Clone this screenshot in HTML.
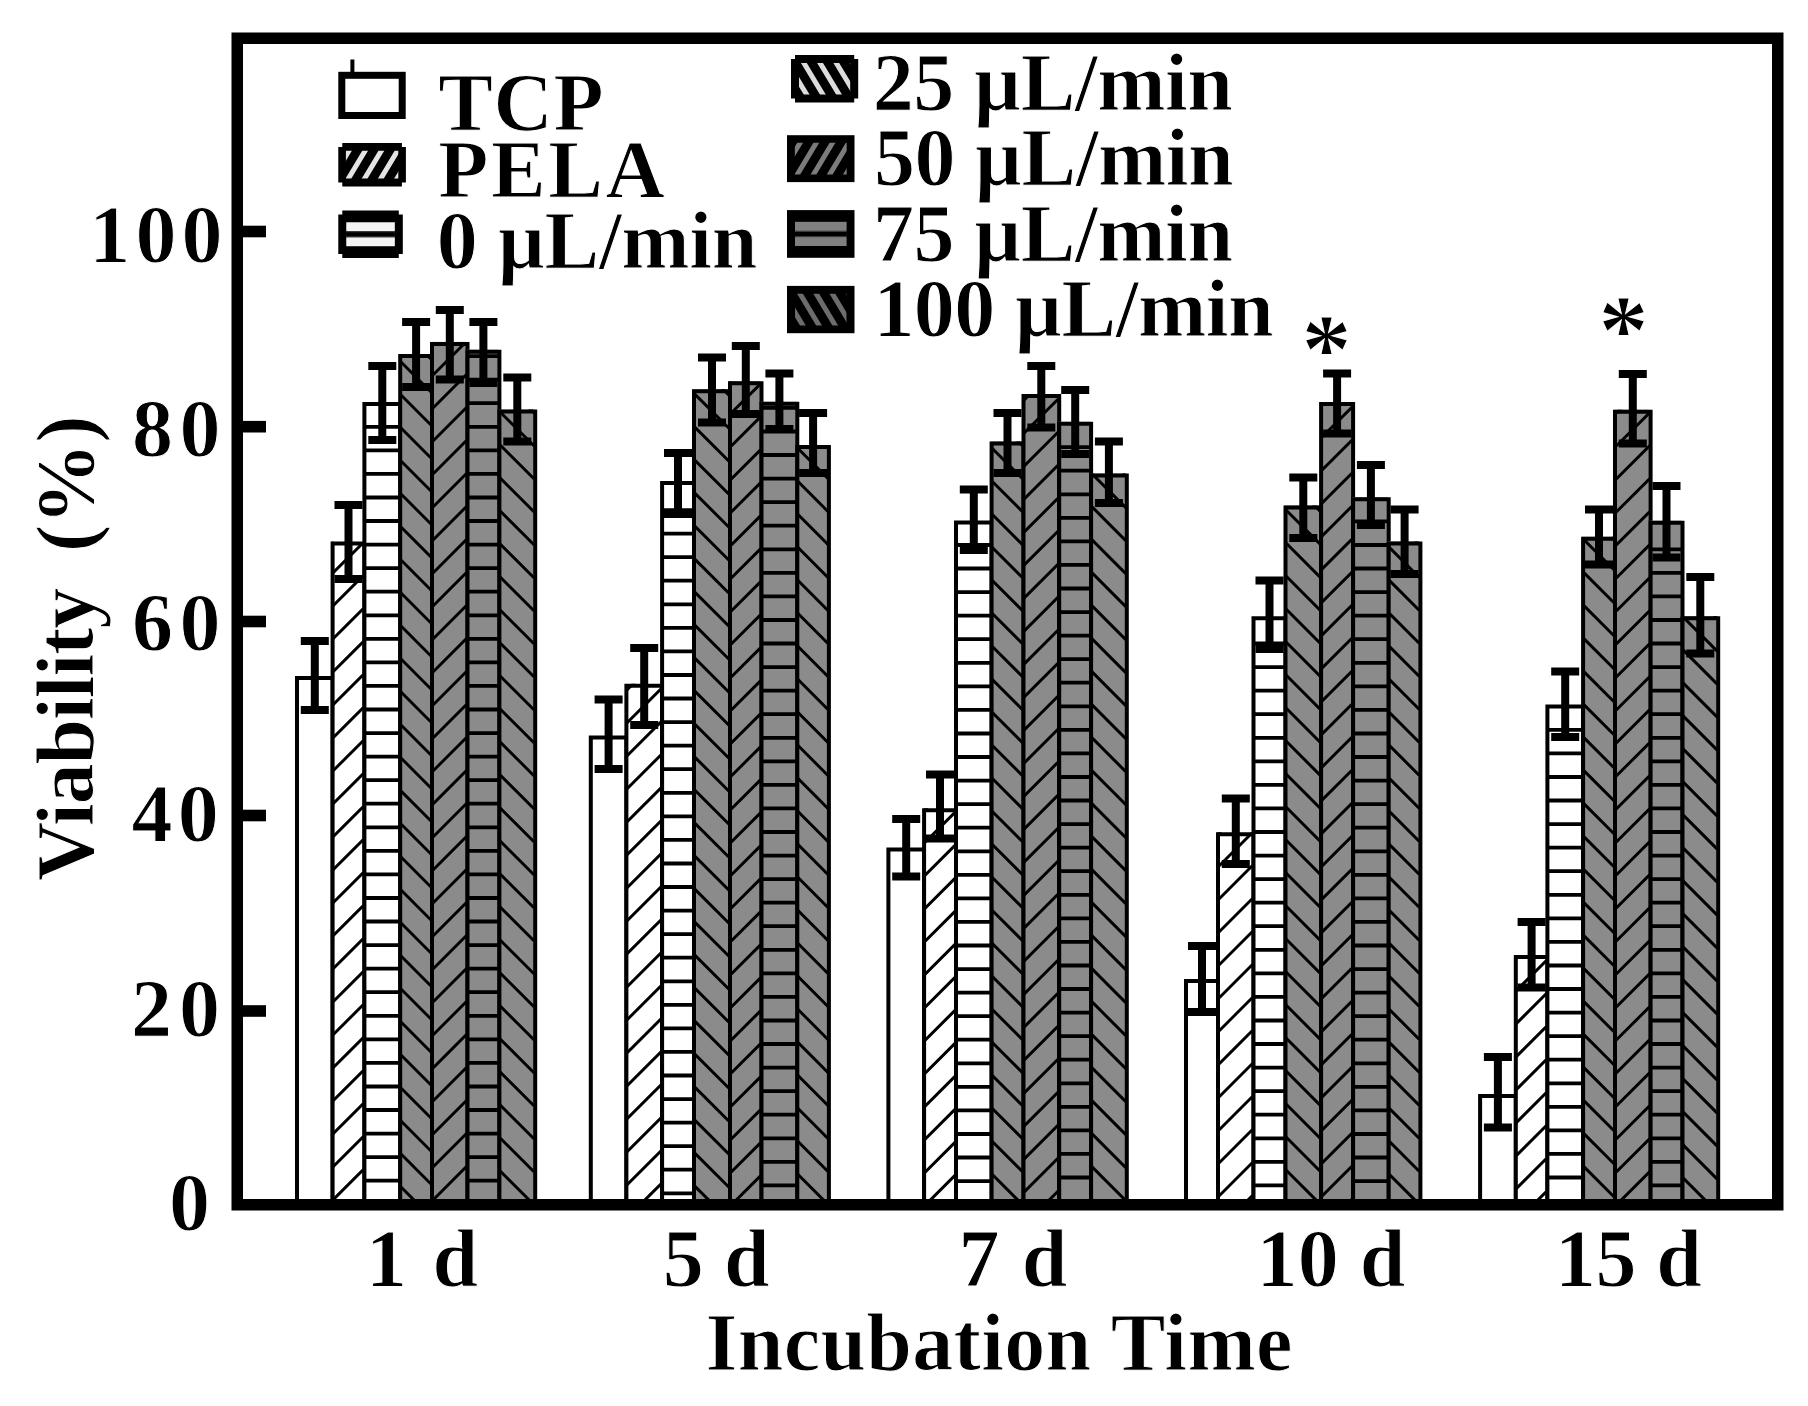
<!DOCTYPE html>
<html lang="en"><head><meta charset="utf-8"><title>Viability vs Incubation Time</title>
<style>html,body{margin:0;padding:0;background:#fff}svg{display:block}text{font-family:"Liberation Serif", "DejaVu Serif", serif;font-weight:bold;fill:#000}</style></head><body>
<svg width="1808" height="1406" viewBox="0 0 1808 1406">
<rect width="1808" height="1406" fill="#fff"/>
<defs><filter id="soft" x="0" y="0" width="1808" height="1406" filterUnits="userSpaceOnUse"><feGaussianBlur stdDeviation="0.6"/></filter></defs>
<g filter="url(#soft)">
<clipPath id="c1"><rect x="296.0" y="676.0" width="35.6" height="525.0"/></clipPath>
<rect x="296.0" y="676.0" width="35.6" height="525.0" fill="#fff"/>
<path d="M297.0 1201.0V678.0H332.6V1201.0" stroke="#000" stroke-width="4" fill="none"/>
<clipPath id="c2"><rect x="331.6" y="541.4" width="31.8" height="659.6"/></clipPath>
<rect x="331.6" y="541.4" width="31.8" height="659.6" fill="#fff"/>
<path clip-path="url(#c2)" d="M331.6 1267.3L363.4 1235.5M331.6 1234.3L363.4 1202.5M331.6 1201.3L363.4 1169.5M331.6 1168.3L363.4 1136.5M331.6 1135.3L363.4 1103.5M331.6 1102.3L363.4 1070.5M331.6 1069.3L363.4 1037.5M331.6 1036.3L363.4 1004.5M331.6 1003.3L363.4 971.5M331.6 970.3L363.4 938.5M331.6 937.3L363.4 905.5M331.6 904.3L363.4 872.5M331.6 871.3L363.4 839.5M331.6 838.3L363.4 806.5M331.6 805.3L363.4 773.5M331.6 772.3L363.4 740.5M331.6 739.3L363.4 707.5M331.6 706.3L363.4 674.5M331.6 673.3L363.4 641.5M331.6 640.3L363.4 608.5M331.6 607.3L363.4 575.5M331.6 574.3L363.4 542.5M331.6 541.3L363.4 509.5M331.6 508.3L363.4 476.5" stroke="#000" stroke-width="3.0" fill="none"/>
<path d="M332.6 1201.0V543.4H364.4V1201.0" stroke="#000" stroke-width="4" fill="none"/>
<clipPath id="c3"><rect x="363.4" y="402.0" width="35.8" height="799.0"/></clipPath>
<rect x="363.4" y="402.0" width="35.8" height="799.0" fill="#fff"/>
<path clip-path="url(#c3)" d="M363.4 1180.7H399.2M363.4 1157.1H399.2M363.4 1133.6H399.2M363.4 1110.0H399.2M363.4 1086.5H399.2M363.4 1062.9H399.2M363.4 1039.3H399.2M363.4 1015.8H399.2M363.4 992.2H399.2M363.4 968.7H399.2M363.4 945.1H399.2M363.4 921.5H399.2M363.4 898.0H399.2M363.4 874.4H399.2M363.4 850.9H399.2M363.4 827.3H399.2M363.4 803.7H399.2M363.4 780.2H399.2M363.4 756.6H399.2M363.4 733.1H399.2M363.4 709.5H399.2M363.4 685.9H399.2M363.4 662.4H399.2M363.4 638.8H399.2M363.4 615.3H399.2M363.4 591.7H399.2M363.4 568.1H399.2M363.4 544.6H399.2M363.4 521.0H399.2M363.4 497.5H399.2M363.4 473.9H399.2M363.4 450.3H399.2M363.4 426.8H399.2" stroke="#000" stroke-width="3.8" fill="none"/>
<path d="M364.4 1201.0V404.0H400.2V1201.0" stroke="#000" stroke-width="4" fill="none"/>
<clipPath id="c4"><rect x="399.2" y="354.0" width="31.8" height="847.0"/></clipPath>
<rect x="399.2" y="354.0" width="31.8" height="847.0" fill="#8b8b8b"/>
<path clip-path="url(#c4)" d="M399.2 1251.2L431.0 1283.0M399.2 1218.2L431.0 1250.0M399.2 1185.2L431.0 1217.0M399.2 1152.2L431.0 1184.0M399.2 1119.2L431.0 1151.0M399.2 1086.2L431.0 1118.0M399.2 1053.2L431.0 1085.0M399.2 1020.2L431.0 1052.0M399.2 987.2L431.0 1019.0M399.2 954.2L431.0 986.0M399.2 921.2L431.0 953.0M399.2 888.2L431.0 920.0M399.2 855.2L431.0 887.0M399.2 822.2L431.0 854.0M399.2 789.2L431.0 821.0M399.2 756.2L431.0 788.0M399.2 723.2L431.0 755.0M399.2 690.2L431.0 722.0M399.2 657.2L431.0 689.0M399.2 624.2L431.0 656.0M399.2 591.2L431.0 623.0M399.2 558.2L431.0 590.0M399.2 525.2L431.0 557.0M399.2 492.2L431.0 524.0M399.2 459.2L431.0 491.0M399.2 426.2L431.0 458.0M399.2 393.2L431.0 425.0M399.2 360.2L431.0 392.0M399.2 327.2L431.0 359.0" stroke="#000" stroke-width="3.0" fill="none"/>
<path d="M400.2 1201.0V356.0H432.0V1201.0" stroke="#000" stroke-width="4" fill="none"/>
<clipPath id="c5"><rect x="431.0" y="341.9" width="35.5" height="859.1"/></clipPath>
<rect x="431.0" y="341.9" width="35.5" height="859.1" fill="#8b8b8b"/>
<path clip-path="url(#c5)" d="M431.0 1268.0L466.5 1232.5M431.0 1235.0L466.5 1199.5M431.0 1202.0L466.5 1166.5M431.0 1169.0L466.5 1133.5M431.0 1136.0L466.5 1100.5M431.0 1103.0L466.5 1067.5M431.0 1070.0L466.5 1034.5M431.0 1037.0L466.5 1001.5M431.0 1004.0L466.5 968.5M431.0 971.0L466.5 935.5M431.0 938.0L466.5 902.5M431.0 905.0L466.5 869.5M431.0 872.0L466.5 836.5M431.0 839.0L466.5 803.5M431.0 806.0L466.5 770.5M431.0 773.0L466.5 737.5M431.0 740.0L466.5 704.5M431.0 707.0L466.5 671.5M431.0 674.0L466.5 638.5M431.0 641.0L466.5 605.5M431.0 608.0L466.5 572.5M431.0 575.0L466.5 539.5M431.0 542.0L466.5 506.5M431.0 509.0L466.5 473.5M431.0 476.0L466.5 440.5M431.0 443.0L466.5 407.5M431.0 410.0L466.5 374.5M431.0 377.0L466.5 341.5M431.0 344.0L466.5 308.5M431.0 311.0L466.5 275.5" stroke="#000" stroke-width="3.0" fill="none"/>
<path d="M432.0 1201.0V343.9H467.5V1201.0" stroke="#000" stroke-width="4" fill="none"/>
<clipPath id="c6"><rect x="466.5" y="349.7" width="31.9" height="851.3"/></clipPath>
<rect x="466.5" y="349.7" width="31.9" height="851.3" fill="#8b8b8b"/>
<path clip-path="url(#c6)" d="M466.5 1180.7H498.4M466.5 1157.1H498.4M466.5 1133.6H498.4M466.5 1110.0H498.4M466.5 1086.5H498.4M466.5 1062.9H498.4M466.5 1039.3H498.4M466.5 1015.8H498.4M466.5 992.2H498.4M466.5 968.7H498.4M466.5 945.1H498.4M466.5 921.5H498.4M466.5 898.0H498.4M466.5 874.4H498.4M466.5 850.9H498.4M466.5 827.3H498.4M466.5 803.7H498.4M466.5 780.2H498.4M466.5 756.6H498.4M466.5 733.1H498.4M466.5 709.5H498.4M466.5 685.9H498.4M466.5 662.4H498.4M466.5 638.8H498.4M466.5 615.3H498.4M466.5 591.7H498.4M466.5 568.1H498.4M466.5 544.6H498.4M466.5 521.0H498.4M466.5 497.5H498.4M466.5 473.9H498.4M466.5 450.3H498.4M466.5 426.8H498.4M466.5 403.2H498.4M466.5 379.7H498.4M466.5 356.1H498.4" stroke="#000" stroke-width="3.8" fill="none"/>
<path d="M467.5 1201.0V351.7H499.4V1201.0" stroke="#000" stroke-width="4" fill="none"/>
<clipPath id="c7"><rect x="498.4" y="409.6" width="35.8" height="791.4"/></clipPath>
<rect x="498.4" y="409.6" width="35.8" height="791.4" fill="#8b8b8b"/>
<path clip-path="url(#c7)" d="M498.4 1235.2L534.2 1271.0M498.4 1202.2L534.2 1238.0M498.4 1169.2L534.2 1205.0M498.4 1136.2L534.2 1172.0M498.4 1103.2L534.2 1139.0M498.4 1070.2L534.2 1106.0M498.4 1037.2L534.2 1073.0M498.4 1004.2L534.2 1040.0M498.4 971.2L534.2 1007.0M498.4 938.2L534.2 974.0M498.4 905.2L534.2 941.0M498.4 872.2L534.2 908.0M498.4 839.2L534.2 875.0M498.4 806.2L534.2 842.0M498.4 773.2L534.2 809.0M498.4 740.2L534.2 776.0M498.4 707.2L534.2 743.0M498.4 674.2L534.2 710.0M498.4 641.2L534.2 677.0M498.4 608.2L534.2 644.0M498.4 575.2L534.2 611.0M498.4 542.2L534.2 578.0M498.4 509.2L534.2 545.0M498.4 476.2L534.2 512.0M498.4 443.2L534.2 479.0M498.4 410.2L534.2 446.0M498.4 377.2L534.2 413.0" stroke="#000" stroke-width="3.0" fill="none"/>
<path d="M499.4 1201.0V411.6H535.2V1201.0" stroke="#000" stroke-width="4" fill="none"/>
<clipPath id="c8"><rect x="589.8" y="735.4" width="35.6" height="465.6"/></clipPath>
<rect x="589.8" y="735.4" width="35.6" height="465.6" fill="#fff"/>
<path d="M590.8 1201.0V737.4H626.4V1201.0" stroke="#000" stroke-width="4" fill="none"/>
<clipPath id="c9"><rect x="625.4" y="683.8" width="35.7" height="517.2"/></clipPath>
<rect x="625.4" y="683.8" width="35.7" height="517.2" fill="#fff"/>
<path clip-path="url(#c9)" d="M625.4 1252.5L661.1 1216.8M625.4 1219.5L661.1 1183.8M625.4 1186.5L661.1 1150.8M625.4 1153.5L661.1 1117.8M625.4 1120.5L661.1 1084.8M625.4 1087.5L661.1 1051.8M625.4 1054.5L661.1 1018.8M625.4 1021.5L661.1 985.8M625.4 988.5L661.1 952.8M625.4 955.5L661.1 919.8M625.4 922.5L661.1 886.8M625.4 889.5L661.1 853.8M625.4 856.5L661.1 820.8M625.4 823.5L661.1 787.8M625.4 790.5L661.1 754.8M625.4 757.5L661.1 721.8M625.4 724.5L661.1 688.8M625.4 691.5L661.1 655.8M625.4 658.5L661.1 622.8" stroke="#000" stroke-width="3.0" fill="none"/>
<path d="M626.4 1201.0V685.8H662.1V1201.0" stroke="#000" stroke-width="4" fill="none"/>
<clipPath id="c10"><rect x="661.1" y="481.0" width="31.9" height="720.0"/></clipPath>
<rect x="661.1" y="481.0" width="31.9" height="720.0" fill="#fff"/>
<path clip-path="url(#c10)" d="M661.1 1193.3H693.0M661.1 1169.7H693.0M661.1 1146.2H693.0M661.1 1122.6H693.0M661.1 1099.1H693.0M661.1 1075.5H693.0M661.1 1051.9H693.0M661.1 1028.4H693.0M661.1 1004.8H693.0M661.1 981.3H693.0M661.1 957.7H693.0M661.1 934.1H693.0M661.1 910.6H693.0M661.1 887.0H693.0M661.1 863.5H693.0M661.1 839.9H693.0M661.1 816.3H693.0M661.1 792.8H693.0M661.1 769.2H693.0M661.1 745.7H693.0M661.1 722.1H693.0M661.1 698.5H693.0M661.1 675.0H693.0M661.1 651.4H693.0M661.1 627.9H693.0M661.1 604.3H693.0M661.1 580.7H693.0M661.1 557.2H693.0M661.1 533.6H693.0M661.1 510.1H693.0" stroke="#000" stroke-width="3.8" fill="none"/>
<path d="M662.1 1201.0V483.0H694.0V1201.0" stroke="#000" stroke-width="4" fill="none"/>
<clipPath id="c11"><rect x="693.0" y="389.3" width="36.0" height="811.7"/></clipPath>
<rect x="693.0" y="389.3" width="36.0" height="811.7" fill="#8b8b8b"/>
<path clip-path="url(#c11)" d="M693.0 1250.3L729.0 1286.3M693.0 1217.3L729.0 1253.3M693.0 1184.3L729.0 1220.3M693.0 1151.3L729.0 1187.3M693.0 1118.3L729.0 1154.3M693.0 1085.3L729.0 1121.3M693.0 1052.3L729.0 1088.3M693.0 1019.3L729.0 1055.3M693.0 986.3L729.0 1022.3M693.0 953.3L729.0 989.3M693.0 920.3L729.0 956.3M693.0 887.3L729.0 923.3M693.0 854.3L729.0 890.3M693.0 821.3L729.0 857.3M693.0 788.3L729.0 824.3M693.0 755.3L729.0 791.3M693.0 722.3L729.0 758.3M693.0 689.3L729.0 725.3M693.0 656.3L729.0 692.3M693.0 623.3L729.0 659.3M693.0 590.3L729.0 626.3M693.0 557.3L729.0 593.3M693.0 524.3L729.0 560.3M693.0 491.3L729.0 527.3M693.0 458.3L729.0 494.3M693.0 425.3L729.0 461.3M693.0 392.3L729.0 428.3M693.0 359.3L729.0 395.3" stroke="#000" stroke-width="3.0" fill="none"/>
<path d="M694.0 1201.0V391.3H730.0V1201.0" stroke="#000" stroke-width="4" fill="none"/>
<clipPath id="c12"><rect x="729.0" y="381.2" width="31.5" height="819.8"/></clipPath>
<rect x="729.0" y="381.2" width="31.5" height="819.8" fill="#8b8b8b"/>
<path clip-path="url(#c12)" d="M729.0 1240.3L760.5 1208.8M729.0 1207.3L760.5 1175.8M729.0 1174.3L760.5 1142.8M729.0 1141.3L760.5 1109.8M729.0 1108.3L760.5 1076.8M729.0 1075.3L760.5 1043.8M729.0 1042.3L760.5 1010.8M729.0 1009.3L760.5 977.8M729.0 976.3L760.5 944.8M729.0 943.3L760.5 911.8M729.0 910.3L760.5 878.8M729.0 877.3L760.5 845.8M729.0 844.3L760.5 812.8M729.0 811.3L760.5 779.8M729.0 778.3L760.5 746.8M729.0 745.3L760.5 713.8M729.0 712.3L760.5 680.8M729.0 679.3L760.5 647.8M729.0 646.3L760.5 614.8M729.0 613.3L760.5 581.8M729.0 580.3L760.5 548.8M729.0 547.3L760.5 515.8M729.0 514.3L760.5 482.8M729.0 481.3L760.5 449.8M729.0 448.3L760.5 416.8M729.0 415.3L760.5 383.8M729.0 382.3L760.5 350.8M729.0 349.3L760.5 317.8" stroke="#000" stroke-width="3.0" fill="none"/>
<path d="M730.0 1201.0V383.2H761.5V1201.0" stroke="#000" stroke-width="4" fill="none"/>
<clipPath id="c13"><rect x="760.5" y="401.8" width="35.8" height="799.2"/></clipPath>
<rect x="760.5" y="401.8" width="35.8" height="799.2" fill="#8b8b8b"/>
<path clip-path="url(#c13)" d="M760.5 1185.4H796.3M760.5 1161.8H796.3M760.5 1138.3H796.3M760.5 1114.7H796.3M760.5 1091.2H796.3M760.5 1067.6H796.3M760.5 1044.0H796.3M760.5 1020.5H796.3M760.5 996.9H796.3M760.5 973.4H796.3M760.5 949.8H796.3M760.5 926.2H796.3M760.5 902.7H796.3M760.5 879.1H796.3M760.5 855.6H796.3M760.5 832.0H796.3M760.5 808.4H796.3M760.5 784.9H796.3M760.5 761.3H796.3M760.5 737.8H796.3M760.5 714.2H796.3M760.5 690.6H796.3M760.5 667.1H796.3M760.5 643.5H796.3M760.5 620.0H796.3M760.5 596.4H796.3M760.5 572.8H796.3M760.5 549.3H796.3M760.5 525.7H796.3M760.5 502.2H796.3M760.5 478.6H796.3M760.5 455.0H796.3M760.5 431.5H796.3M760.5 407.9H796.3" stroke="#000" stroke-width="3.8" fill="none"/>
<path d="M761.5 1201.0V403.8H797.3V1201.0" stroke="#000" stroke-width="4" fill="none"/>
<clipPath id="c14"><rect x="796.3" y="445.0" width="31.6" height="756.0"/></clipPath>
<rect x="796.3" y="445.0" width="31.6" height="756.0" fill="#8b8b8b"/>
<path clip-path="url(#c14)" d="M796.3 1238.8L827.9 1270.4M796.3 1205.8L827.9 1237.4M796.3 1172.8L827.9 1204.4M796.3 1139.8L827.9 1171.4M796.3 1106.8L827.9 1138.4M796.3 1073.8L827.9 1105.4M796.3 1040.8L827.9 1072.4M796.3 1007.8L827.9 1039.4M796.3 974.8L827.9 1006.4M796.3 941.8L827.9 973.4M796.3 908.8L827.9 940.4M796.3 875.8L827.9 907.4M796.3 842.8L827.9 874.4M796.3 809.8L827.9 841.4M796.3 776.8L827.9 808.4M796.3 743.8L827.9 775.4M796.3 710.8L827.9 742.4M796.3 677.8L827.9 709.4M796.3 644.8L827.9 676.4M796.3 611.8L827.9 643.4M796.3 578.8L827.9 610.4M796.3 545.8L827.9 577.4M796.3 512.8L827.9 544.4M796.3 479.8L827.9 511.4M796.3 446.8L827.9 478.4M796.3 413.8L827.9 445.4" stroke="#000" stroke-width="3.0" fill="none"/>
<path d="M797.3 1201.0V447.0H828.9V1201.0" stroke="#000" stroke-width="4" fill="none"/>
<clipPath id="c15"><rect x="887.4" y="847.5" width="35.7" height="353.5"/></clipPath>
<rect x="887.4" y="847.5" width="35.7" height="353.5" fill="#fff"/>
<path d="M888.4 1201.0V849.5H924.1V1201.0" stroke="#000" stroke-width="4" fill="none"/>
<clipPath id="c16"><rect x="923.1" y="808.3" width="31.9" height="392.7"/></clipPath>
<rect x="923.1" y="808.3" width="31.9" height="392.7" fill="#fff"/>
<path clip-path="url(#c16)" d="M923.1 1240.3L955.0 1208.4M923.1 1207.3L955.0 1175.4M923.1 1174.3L955.0 1142.4M923.1 1141.3L955.0 1109.4M923.1 1108.3L955.0 1076.4M923.1 1075.3L955.0 1043.4M923.1 1042.3L955.0 1010.4M923.1 1009.3L955.0 977.4M923.1 976.3L955.0 944.4M923.1 943.3L955.0 911.4M923.1 910.3L955.0 878.4M923.1 877.3L955.0 845.4M923.1 844.3L955.0 812.4M923.1 811.3L955.0 779.4M923.1 778.3L955.0 746.4" stroke="#000" stroke-width="3.0" fill="none"/>
<path d="M924.1 1201.0V810.3H956.0V1201.0" stroke="#000" stroke-width="4" fill="none"/>
<clipPath id="c17"><rect x="955.0" y="520.6" width="35.6" height="680.4"/></clipPath>
<rect x="955.0" y="520.6" width="35.6" height="680.4" fill="#fff"/>
<path clip-path="url(#c17)" d="M955.0 1181.1H990.6M955.0 1157.5H990.6M955.0 1134.0H990.6M955.0 1110.4H990.6M955.0 1086.9H990.6M955.0 1063.3H990.6M955.0 1039.7H990.6M955.0 1016.2H990.6M955.0 992.6H990.6M955.0 969.1H990.6M955.0 945.5H990.6M955.0 921.9H990.6M955.0 898.4H990.6M955.0 874.8H990.6M955.0 851.3H990.6M955.0 827.7H990.6M955.0 804.1H990.6M955.0 780.6H990.6M955.0 757.0H990.6M955.0 733.5H990.6M955.0 709.9H990.6M955.0 686.3H990.6M955.0 662.8H990.6M955.0 639.2H990.6M955.0 615.7H990.6M955.0 592.1H990.6M955.0 568.5H990.6M955.0 545.0H990.6" stroke="#000" stroke-width="3.8" fill="none"/>
<path d="M956.0 1201.0V522.6H991.6V1201.0" stroke="#000" stroke-width="4" fill="none"/>
<clipPath id="c18"><rect x="990.6" y="441.4" width="31.9" height="759.6"/></clipPath>
<rect x="990.6" y="441.4" width="31.9" height="759.6" fill="#8b8b8b"/>
<path clip-path="url(#c18)" d="M990.6 1238.8L1022.5 1270.7M990.6 1205.8L1022.5 1237.7M990.6 1172.8L1022.5 1204.7M990.6 1139.8L1022.5 1171.7M990.6 1106.8L1022.5 1138.7M990.6 1073.8L1022.5 1105.7M990.6 1040.8L1022.5 1072.7M990.6 1007.8L1022.5 1039.7M990.6 974.8L1022.5 1006.7M990.6 941.8L1022.5 973.7M990.6 908.8L1022.5 940.7M990.6 875.8L1022.5 907.7M990.6 842.8L1022.5 874.7M990.6 809.8L1022.5 841.7M990.6 776.8L1022.5 808.7M990.6 743.8L1022.5 775.7M990.6 710.8L1022.5 742.7M990.6 677.8L1022.5 709.7M990.6 644.8L1022.5 676.7M990.6 611.8L1022.5 643.7M990.6 578.8L1022.5 610.7M990.6 545.8L1022.5 577.7M990.6 512.8L1022.5 544.7M990.6 479.8L1022.5 511.7M990.6 446.8L1022.5 478.7M990.6 413.8L1022.5 445.7" stroke="#000" stroke-width="3.0" fill="none"/>
<path d="M991.6 1201.0V443.4H1023.5V1201.0" stroke="#000" stroke-width="4" fill="none"/>
<clipPath id="c19"><rect x="1022.5" y="394.0" width="35.7" height="807.0"/></clipPath>
<rect x="1022.5" y="394.0" width="35.7" height="807.0" fill="#8b8b8b"/>
<path clip-path="url(#c19)" d="M1022.5 1259.7L1058.2 1224.0M1022.5 1226.7L1058.2 1191.0M1022.5 1193.7L1058.2 1158.0M1022.5 1160.7L1058.2 1125.0M1022.5 1127.7L1058.2 1092.0M1022.5 1094.7L1058.2 1059.0M1022.5 1061.7L1058.2 1026.0M1022.5 1028.7L1058.2 993.0M1022.5 995.7L1058.2 960.0M1022.5 962.7L1058.2 927.0M1022.5 929.7L1058.2 894.0M1022.5 896.7L1058.2 861.0M1022.5 863.7L1058.2 828.0M1022.5 830.7L1058.2 795.0M1022.5 797.7L1058.2 762.0M1022.5 764.7L1058.2 729.0M1022.5 731.7L1058.2 696.0M1022.5 698.7L1058.2 663.0M1022.5 665.7L1058.2 630.0M1022.5 632.7L1058.2 597.0M1022.5 599.7L1058.2 564.0M1022.5 566.7L1058.2 531.0M1022.5 533.7L1058.2 498.0M1022.5 500.7L1058.2 465.0M1022.5 467.7L1058.2 432.0M1022.5 434.7L1058.2 399.0M1022.5 401.7L1058.2 366.0M1022.5 368.7L1058.2 333.0" stroke="#000" stroke-width="3.0" fill="none"/>
<path d="M1023.5 1201.0V396.0H1059.2V1201.0" stroke="#000" stroke-width="4" fill="none"/>
<clipPath id="c20"><rect x="1058.2" y="421.8" width="31.9" height="779.2"/></clipPath>
<rect x="1058.2" y="421.8" width="31.9" height="779.2" fill="#8b8b8b"/>
<path clip-path="url(#c20)" d="M1058.2 1177.5H1090.1M1058.2 1153.9H1090.1M1058.2 1130.4H1090.1M1058.2 1106.8H1090.1M1058.2 1083.3H1090.1M1058.2 1059.7H1090.1M1058.2 1036.1H1090.1M1058.2 1012.6H1090.1M1058.2 989.0H1090.1M1058.2 965.5H1090.1M1058.2 941.9H1090.1M1058.2 918.3H1090.1M1058.2 894.8H1090.1M1058.2 871.2H1090.1M1058.2 847.7H1090.1M1058.2 824.1H1090.1M1058.2 800.5H1090.1M1058.2 777.0H1090.1M1058.2 753.4H1090.1M1058.2 729.9H1090.1M1058.2 706.3H1090.1M1058.2 682.7H1090.1M1058.2 659.2H1090.1M1058.2 635.6H1090.1M1058.2 612.1H1090.1M1058.2 588.5H1090.1M1058.2 564.9H1090.1M1058.2 541.4H1090.1M1058.2 517.8H1090.1M1058.2 494.3H1090.1M1058.2 470.7H1090.1M1058.2 447.1H1090.1" stroke="#000" stroke-width="3.8" fill="none"/>
<path d="M1059.2 1201.0V423.8H1091.1V1201.0" stroke="#000" stroke-width="4" fill="none"/>
<clipPath id="c21"><rect x="1090.1" y="473.5" width="35.7" height="727.5"/></clipPath>
<rect x="1090.1" y="473.5" width="35.7" height="727.5" fill="#8b8b8b"/>
<path clip-path="url(#c21)" d="M1090.1 1230.9L1125.8 1266.6M1090.1 1197.9L1125.8 1233.6M1090.1 1164.9L1125.8 1200.6M1090.1 1131.9L1125.8 1167.6M1090.1 1098.9L1125.8 1134.6M1090.1 1065.9L1125.8 1101.6M1090.1 1032.9L1125.8 1068.6M1090.1 999.9L1125.8 1035.6M1090.1 966.9L1125.8 1002.6M1090.1 933.9L1125.8 969.6M1090.1 900.9L1125.8 936.6M1090.1 867.9L1125.8 903.6M1090.1 834.9L1125.8 870.6M1090.1 801.9L1125.8 837.6M1090.1 768.9L1125.8 804.6M1090.1 735.9L1125.8 771.6M1090.1 702.9L1125.8 738.6M1090.1 669.9L1125.8 705.6M1090.1 636.9L1125.8 672.6M1090.1 603.9L1125.8 639.6M1090.1 570.9L1125.8 606.6M1090.1 537.9L1125.8 573.6M1090.1 504.9L1125.8 540.6M1090.1 471.9L1125.8 507.6M1090.1 438.9L1125.8 474.6" stroke="#000" stroke-width="3.0" fill="none"/>
<path d="M1091.1 1201.0V475.5H1126.8V1201.0" stroke="#000" stroke-width="4" fill="none"/>
<clipPath id="c22"><rect x="1185.0" y="979.0" width="32.0" height="222.0"/></clipPath>
<rect x="1185.0" y="979.0" width="32.0" height="222.0" fill="#fff"/>
<path d="M1186.0 1201.0V981.0H1218.0V1201.0" stroke="#000" stroke-width="4" fill="none"/>
<clipPath id="c23"><rect x="1217.0" y="832.2" width="35.5" height="368.8"/></clipPath>
<rect x="1217.0" y="832.2" width="35.5" height="368.8" fill="#fff"/>
<path clip-path="url(#c23)" d="M1217.0 1264.0L1252.5 1228.5M1217.0 1231.0L1252.5 1195.5M1217.0 1198.0L1252.5 1162.5M1217.0 1165.0L1252.5 1129.5M1217.0 1132.0L1252.5 1096.5M1217.0 1099.0L1252.5 1063.5M1217.0 1066.0L1252.5 1030.5M1217.0 1033.0L1252.5 997.5M1217.0 1000.0L1252.5 964.5M1217.0 967.0L1252.5 931.5M1217.0 934.0L1252.5 898.5M1217.0 901.0L1252.5 865.5M1217.0 868.0L1252.5 832.5M1217.0 835.0L1252.5 799.5M1217.0 802.0L1252.5 766.5" stroke="#000" stroke-width="3.0" fill="none"/>
<path d="M1218.0 1201.0V834.2H1253.5V1201.0" stroke="#000" stroke-width="4" fill="none"/>
<clipPath id="c24"><rect x="1252.5" y="616.3" width="32.0" height="584.7"/></clipPath>
<rect x="1252.5" y="616.3" width="32.0" height="584.7" fill="#fff"/>
<path clip-path="url(#c24)" d="M1252.5 1185.4H1284.5M1252.5 1161.8H1284.5M1252.5 1138.3H1284.5M1252.5 1114.7H1284.5M1252.5 1091.2H1284.5M1252.5 1067.6H1284.5M1252.5 1044.0H1284.5M1252.5 1020.5H1284.5M1252.5 996.9H1284.5M1252.5 973.4H1284.5M1252.5 949.8H1284.5M1252.5 926.2H1284.5M1252.5 902.7H1284.5M1252.5 879.1H1284.5M1252.5 855.6H1284.5M1252.5 832.0H1284.5M1252.5 808.4H1284.5M1252.5 784.9H1284.5M1252.5 761.3H1284.5M1252.5 737.8H1284.5M1252.5 714.2H1284.5M1252.5 690.6H1284.5M1252.5 667.1H1284.5M1252.5 643.5H1284.5" stroke="#000" stroke-width="3.8" fill="none"/>
<path d="M1253.5 1201.0V618.3H1285.5V1201.0" stroke="#000" stroke-width="4" fill="none"/>
<clipPath id="c25"><rect x="1284.5" y="505.4" width="35.6" height="695.6"/></clipPath>
<rect x="1284.5" y="505.4" width="35.6" height="695.6" fill="#8b8b8b"/>
<path clip-path="url(#c25)" d="M1284.5 1234.5L1320.1 1270.1M1284.5 1201.5L1320.1 1237.1M1284.5 1168.5L1320.1 1204.1M1284.5 1135.5L1320.1 1171.1M1284.5 1102.5L1320.1 1138.1M1284.5 1069.5L1320.1 1105.1M1284.5 1036.5L1320.1 1072.1M1284.5 1003.5L1320.1 1039.1M1284.5 970.5L1320.1 1006.1M1284.5 937.5L1320.1 973.1M1284.5 904.5L1320.1 940.1M1284.5 871.5L1320.1 907.1M1284.5 838.5L1320.1 874.1M1284.5 805.5L1320.1 841.1M1284.5 772.5L1320.1 808.1M1284.5 739.5L1320.1 775.1M1284.5 706.5L1320.1 742.1M1284.5 673.5L1320.1 709.1M1284.5 640.5L1320.1 676.1M1284.5 607.5L1320.1 643.1M1284.5 574.5L1320.1 610.1M1284.5 541.5L1320.1 577.1M1284.5 508.5L1320.1 544.1M1284.5 475.5L1320.1 511.1" stroke="#000" stroke-width="3.0" fill="none"/>
<path d="M1285.5 1201.0V507.4H1321.1V1201.0" stroke="#000" stroke-width="4" fill="none"/>
<clipPath id="c26"><rect x="1320.1" y="402.0" width="32.0" height="799.0"/></clipPath>
<rect x="1320.1" y="402.0" width="32.0" height="799.0" fill="#8b8b8b"/>
<path clip-path="url(#c26)" d="M1320.1 1264.0L1352.1 1232.0M1320.1 1231.0L1352.1 1199.0M1320.1 1198.0L1352.1 1166.0M1320.1 1165.0L1352.1 1133.0M1320.1 1132.0L1352.1 1100.0M1320.1 1099.0L1352.1 1067.0M1320.1 1066.0L1352.1 1034.0M1320.1 1033.0L1352.1 1001.0M1320.1 1000.0L1352.1 968.0M1320.1 967.0L1352.1 935.0M1320.1 934.0L1352.1 902.0M1320.1 901.0L1352.1 869.0M1320.1 868.0L1352.1 836.0M1320.1 835.0L1352.1 803.0M1320.1 802.0L1352.1 770.0M1320.1 769.0L1352.1 737.0M1320.1 736.0L1352.1 704.0M1320.1 703.0L1352.1 671.0M1320.1 670.0L1352.1 638.0M1320.1 637.0L1352.1 605.0M1320.1 604.0L1352.1 572.0M1320.1 571.0L1352.1 539.0M1320.1 538.0L1352.1 506.0M1320.1 505.0L1352.1 473.0M1320.1 472.0L1352.1 440.0M1320.1 439.0L1352.1 407.0M1320.1 406.0L1352.1 374.0M1320.1 373.0L1352.1 341.0" stroke="#000" stroke-width="3.0" fill="none"/>
<path d="M1321.1 1201.0V404.0H1353.1V1201.0" stroke="#000" stroke-width="4" fill="none"/>
<clipPath id="c27"><rect x="1352.1" y="497.2" width="35.6" height="703.8"/></clipPath>
<rect x="1352.1" y="497.2" width="35.6" height="703.8" fill="#8b8b8b"/>
<path clip-path="url(#c27)" d="M1352.1 1181.1H1387.7M1352.1 1157.5H1387.7M1352.1 1134.0H1387.7M1352.1 1110.4H1387.7M1352.1 1086.9H1387.7M1352.1 1063.3H1387.7M1352.1 1039.7H1387.7M1352.1 1016.2H1387.7M1352.1 992.6H1387.7M1352.1 969.1H1387.7M1352.1 945.5H1387.7M1352.1 921.9H1387.7M1352.1 898.4H1387.7M1352.1 874.8H1387.7M1352.1 851.3H1387.7M1352.1 827.7H1387.7M1352.1 804.1H1387.7M1352.1 780.6H1387.7M1352.1 757.0H1387.7M1352.1 733.5H1387.7M1352.1 709.9H1387.7M1352.1 686.3H1387.7M1352.1 662.8H1387.7M1352.1 639.2H1387.7M1352.1 615.7H1387.7M1352.1 592.1H1387.7M1352.1 568.5H1387.7M1352.1 545.0H1387.7M1352.1 521.4H1387.7" stroke="#000" stroke-width="3.8" fill="none"/>
<path d="M1353.1 1201.0V499.2H1388.7V1201.0" stroke="#000" stroke-width="4" fill="none"/>
<clipPath id="c28"><rect x="1387.7" y="541.4" width="31.7" height="659.6"/></clipPath>
<rect x="1387.7" y="541.4" width="31.7" height="659.6" fill="#8b8b8b"/>
<path clip-path="url(#c28)" d="M1387.7 1238.8L1419.4 1270.5M1387.7 1205.8L1419.4 1237.5M1387.7 1172.8L1419.4 1204.5M1387.7 1139.8L1419.4 1171.5M1387.7 1106.8L1419.4 1138.5M1387.7 1073.8L1419.4 1105.5M1387.7 1040.8L1419.4 1072.5M1387.7 1007.8L1419.4 1039.5M1387.7 974.8L1419.4 1006.5M1387.7 941.8L1419.4 973.5M1387.7 908.8L1419.4 940.5M1387.7 875.8L1419.4 907.5M1387.7 842.8L1419.4 874.5M1387.7 809.8L1419.4 841.5M1387.7 776.8L1419.4 808.5M1387.7 743.8L1419.4 775.5M1387.7 710.8L1419.4 742.5M1387.7 677.8L1419.4 709.5M1387.7 644.8L1419.4 676.5M1387.7 611.8L1419.4 643.5M1387.7 578.8L1419.4 610.5M1387.7 545.8L1419.4 577.5M1387.7 512.8L1419.4 544.5" stroke="#000" stroke-width="3.0" fill="none"/>
<path d="M1388.7 1201.0V543.4H1420.4V1201.0" stroke="#000" stroke-width="4" fill="none"/>
<clipPath id="c29"><rect x="1479.1" y="1093.9" width="35.7" height="107.1"/></clipPath>
<rect x="1479.1" y="1093.9" width="35.7" height="107.1" fill="#fff"/>
<path d="M1480.1 1201.0V1095.9H1515.8V1201.0" stroke="#000" stroke-width="4" fill="none"/>
<clipPath id="c30"><rect x="1514.8" y="955.0" width="31.6" height="246.0"/></clipPath>
<rect x="1514.8" y="955.0" width="31.6" height="246.0" fill="#fff"/>
<path clip-path="url(#c30)" d="M1514.8 1256.1L1546.4 1224.5M1514.8 1223.1L1546.4 1191.5M1514.8 1190.1L1546.4 1158.5M1514.8 1157.1L1546.4 1125.5M1514.8 1124.1L1546.4 1092.5M1514.8 1091.1L1546.4 1059.5M1514.8 1058.1L1546.4 1026.5M1514.8 1025.1L1546.4 993.5M1514.8 992.1L1546.4 960.5M1514.8 959.1L1546.4 927.5M1514.8 926.1L1546.4 894.5" stroke="#000" stroke-width="3.0" fill="none"/>
<path d="M1515.8 1201.0V957.0H1547.4V1201.0" stroke="#000" stroke-width="4" fill="none"/>
<clipPath id="c31"><rect x="1546.4" y="704.4" width="35.7" height="496.6"/></clipPath>
<rect x="1546.4" y="704.4" width="35.7" height="496.6" fill="#fff"/>
<path clip-path="url(#c31)" d="M1546.4 1177.5H1582.1M1546.4 1153.9H1582.1M1546.4 1130.4H1582.1M1546.4 1106.8H1582.1M1546.4 1083.3H1582.1M1546.4 1059.7H1582.1M1546.4 1036.1H1582.1M1546.4 1012.6H1582.1M1546.4 989.0H1582.1M1546.4 965.5H1582.1M1546.4 941.9H1582.1M1546.4 918.3H1582.1M1546.4 894.8H1582.1M1546.4 871.2H1582.1M1546.4 847.7H1582.1M1546.4 824.1H1582.1M1546.4 800.5H1582.1M1546.4 777.0H1582.1M1546.4 753.4H1582.1M1546.4 729.9H1582.1" stroke="#000" stroke-width="3.8" fill="none"/>
<path d="M1547.4 1201.0V706.4H1583.1V1201.0" stroke="#000" stroke-width="4" fill="none"/>
<clipPath id="c32"><rect x="1582.1" y="536.7" width="31.9" height="664.3"/></clipPath>
<rect x="1582.1" y="536.7" width="31.9" height="664.3" fill="#8b8b8b"/>
<path clip-path="url(#c32)" d="M1582.1 1230.9L1614.0 1262.8M1582.1 1197.9L1614.0 1229.8M1582.1 1164.9L1614.0 1196.8M1582.1 1131.9L1614.0 1163.8M1582.1 1098.9L1614.0 1130.8M1582.1 1065.9L1614.0 1097.8M1582.1 1032.9L1614.0 1064.8M1582.1 999.9L1614.0 1031.8M1582.1 966.9L1614.0 998.8M1582.1 933.9L1614.0 965.8M1582.1 900.9L1614.0 932.8M1582.1 867.9L1614.0 899.8M1582.1 834.9L1614.0 866.8M1582.1 801.9L1614.0 833.8M1582.1 768.9L1614.0 800.8M1582.1 735.9L1614.0 767.8M1582.1 702.9L1614.0 734.8M1582.1 669.9L1614.0 701.8M1582.1 636.9L1614.0 668.8M1582.1 603.9L1614.0 635.8M1582.1 570.9L1614.0 602.8M1582.1 537.9L1614.0 569.8M1582.1 504.9L1614.0 536.8" stroke="#000" stroke-width="3.0" fill="none"/>
<path d="M1583.1 1201.0V538.7H1615.0V1201.0" stroke="#000" stroke-width="4" fill="none"/>
<clipPath id="c33"><rect x="1614.0" y="409.7" width="35.6" height="791.3"/></clipPath>
<rect x="1614.0" y="409.7" width="35.6" height="791.3" fill="#8b8b8b"/>
<path clip-path="url(#c33)" d="M1614.0 1240.3L1649.6 1204.7M1614.0 1207.3L1649.6 1171.7M1614.0 1174.3L1649.6 1138.7M1614.0 1141.3L1649.6 1105.7M1614.0 1108.3L1649.6 1072.7M1614.0 1075.3L1649.6 1039.7M1614.0 1042.3L1649.6 1006.7M1614.0 1009.3L1649.6 973.7M1614.0 976.3L1649.6 940.7M1614.0 943.3L1649.6 907.7M1614.0 910.3L1649.6 874.7M1614.0 877.3L1649.6 841.7M1614.0 844.3L1649.6 808.7M1614.0 811.3L1649.6 775.7M1614.0 778.3L1649.6 742.7M1614.0 745.3L1649.6 709.7M1614.0 712.3L1649.6 676.7M1614.0 679.3L1649.6 643.7M1614.0 646.3L1649.6 610.7M1614.0 613.3L1649.6 577.7M1614.0 580.3L1649.6 544.7M1614.0 547.3L1649.6 511.7M1614.0 514.3L1649.6 478.7M1614.0 481.3L1649.6 445.7M1614.0 448.3L1649.6 412.7M1614.0 415.3L1649.6 379.7M1614.0 382.3L1649.6 346.7" stroke="#000" stroke-width="3.0" fill="none"/>
<path d="M1615.0 1201.0V411.7H1650.6V1201.0" stroke="#000" stroke-width="4" fill="none"/>
<clipPath id="c34"><rect x="1649.6" y="520.7" width="31.9" height="680.3"/></clipPath>
<rect x="1649.6" y="520.7" width="31.9" height="680.3" fill="#8b8b8b"/>
<path clip-path="url(#c34)" d="M1649.6 1185.4H1681.5M1649.6 1161.8H1681.5M1649.6 1138.3H1681.5M1649.6 1114.7H1681.5M1649.6 1091.2H1681.5M1649.6 1067.6H1681.5M1649.6 1044.0H1681.5M1649.6 1020.5H1681.5M1649.6 996.9H1681.5M1649.6 973.4H1681.5M1649.6 949.8H1681.5M1649.6 926.2H1681.5M1649.6 902.7H1681.5M1649.6 879.1H1681.5M1649.6 855.6H1681.5M1649.6 832.0H1681.5M1649.6 808.4H1681.5M1649.6 784.9H1681.5M1649.6 761.3H1681.5M1649.6 737.8H1681.5M1649.6 714.2H1681.5M1649.6 690.6H1681.5M1649.6 667.1H1681.5M1649.6 643.5H1681.5M1649.6 620.0H1681.5M1649.6 596.4H1681.5M1649.6 572.8H1681.5M1649.6 549.3H1681.5" stroke="#000" stroke-width="3.8" fill="none"/>
<path d="M1650.6 1201.0V522.7H1682.5V1201.0" stroke="#000" stroke-width="4" fill="none"/>
<clipPath id="c35"><rect x="1681.5" y="616.3" width="35.7" height="584.7"/></clipPath>
<rect x="1681.5" y="616.3" width="35.7" height="584.7" fill="#8b8b8b"/>
<path clip-path="url(#c35)" d="M1681.5 1242.4L1717.2 1278.1M1681.5 1209.4L1717.2 1245.1M1681.5 1176.4L1717.2 1212.1M1681.5 1143.4L1717.2 1179.1M1681.5 1110.4L1717.2 1146.1M1681.5 1077.4L1717.2 1113.1M1681.5 1044.4L1717.2 1080.1M1681.5 1011.4L1717.2 1047.1M1681.5 978.4L1717.2 1014.1M1681.5 945.4L1717.2 981.1M1681.5 912.4L1717.2 948.1M1681.5 879.4L1717.2 915.1M1681.5 846.4L1717.2 882.1M1681.5 813.4L1717.2 849.1M1681.5 780.4L1717.2 816.1M1681.5 747.4L1717.2 783.1M1681.5 714.4L1717.2 750.1M1681.5 681.4L1717.2 717.1M1681.5 648.4L1717.2 684.1M1681.5 615.4L1717.2 651.1M1681.5 582.4L1717.2 618.1" stroke="#000" stroke-width="3.0" fill="none"/>
<path d="M1682.5 1201.0V618.3H1718.2V1201.0" stroke="#000" stroke-width="4" fill="none"/>
<path d="M314.8 639.0V712.0M300.8 641.0H328.8M300.8 710.0H328.8" stroke="#000" stroke-width="8" fill="none"/>
<path d="M348.5 503.0V581.0M334.5 505.0H362.5M334.5 579.0H362.5" stroke="#000" stroke-width="8" fill="none"/>
<path d="M382.3 364.0V442.0M368.3 366.0H396.3M368.3 440.0H396.3" stroke="#000" stroke-width="8" fill="none"/>
<path d="M416.1 320.0V389.0M402.1 322.0H430.1M402.1 387.0H430.1" stroke="#000" stroke-width="8" fill="none"/>
<path d="M449.8 308.0V381.5M435.8 310.0H463.8M435.8 379.5H463.8" stroke="#000" stroke-width="8" fill="none"/>
<path d="M483.4 320.0V385.0M469.4 322.0H497.4M469.4 383.0H497.4" stroke="#000" stroke-width="8" fill="none"/>
<path d="M517.3 375.5V443.5M503.3 377.5H531.3M503.3 441.5H531.3" stroke="#000" stroke-width="8" fill="none"/>
<path d="M608.6 697.5V771.0M594.6 699.5H622.6M594.6 769.0H622.6" stroke="#000" stroke-width="8" fill="none"/>
<path d="M644.2 646.0V727.0M630.2 648.0H658.2M630.2 725.0H658.2" stroke="#000" stroke-width="8" fill="none"/>
<path d="M678.0 451.0V516.0M664.0 453.0H692.0M664.0 514.0H692.0" stroke="#000" stroke-width="8" fill="none"/>
<path d="M712.0 355.5V424.5M698.0 357.5H726.0M698.0 422.5H726.0" stroke="#000" stroke-width="8" fill="none"/>
<path d="M745.8 344.0V416.0M731.8 346.0H759.8M731.8 414.0H759.8" stroke="#000" stroke-width="8" fill="none"/>
<path d="M779.4 371.5V431.0M765.4 373.5H793.4M765.4 429.0H793.4" stroke="#000" stroke-width="8" fill="none"/>
<path d="M813.1 411.0V475.0M799.1 413.0H827.1M799.1 473.0H827.1" stroke="#000" stroke-width="8" fill="none"/>
<path d="M906.2 817.0V878.5M892.2 819.0H920.2M892.2 876.5H920.2" stroke="#000" stroke-width="8" fill="none"/>
<path d="M940.0 772.5V840.5M926.0 774.5H954.0M926.0 838.5H954.0" stroke="#000" stroke-width="8" fill="none"/>
<path d="M973.8 487.5V552.0M959.8 489.5H987.8M959.8 550.0H987.8" stroke="#000" stroke-width="8" fill="none"/>
<path d="M1007.5 411.0V475.0M993.5 413.0H1021.5M993.5 473.0H1021.5" stroke="#000" stroke-width="8" fill="none"/>
<path d="M1041.3 364.0V429.5M1027.3 366.0H1055.3M1027.3 427.5H1055.3" stroke="#000" stroke-width="8" fill="none"/>
<path d="M1075.2 388.0V456.0M1061.2 390.0H1089.2M1061.2 454.0H1089.2" stroke="#000" stroke-width="8" fill="none"/>
<path d="M1108.9 439.5V505.0M1094.9 441.5H1122.9M1094.9 503.0H1122.9" stroke="#000" stroke-width="8" fill="none"/>
<path d="M1202.0 944.0V1014.0M1188.0 946.0H1216.0M1188.0 1012.0H1216.0" stroke="#000" stroke-width="8" fill="none"/>
<path d="M1235.8 796.5V866.0M1221.8 798.5H1249.8M1221.8 864.0H1249.8" stroke="#000" stroke-width="8" fill="none"/>
<path d="M1269.5 578.5V651.0M1255.5 580.5H1283.5M1255.5 649.0H1283.5" stroke="#000" stroke-width="8" fill="none"/>
<path d="M1303.3 475.5V540.0M1289.3 477.5H1317.3M1289.3 538.0H1317.3" stroke="#000" stroke-width="8" fill="none"/>
<path d="M1337.1 371.5V435.5M1323.1 373.5H1351.1M1323.1 433.5H1351.1" stroke="#000" stroke-width="8" fill="none"/>
<path d="M1370.9 463.0V527.0M1356.9 465.0H1384.9M1356.9 525.0H1384.9" stroke="#000" stroke-width="8" fill="none"/>
<path d="M1404.6 507.5V576.0M1390.6 509.5H1418.6M1390.6 574.0H1418.6" stroke="#000" stroke-width="8" fill="none"/>
<path d="M1497.9 1055.0V1129.5M1483.9 1057.0H1511.9M1483.9 1127.5H1511.9" stroke="#000" stroke-width="8" fill="none"/>
<path d="M1531.6 920.0V989.5M1517.6 922.0H1545.6M1517.6 987.5H1545.6" stroke="#000" stroke-width="8" fill="none"/>
<path d="M1565.2 669.5V739.0M1551.2 671.5H1579.2M1551.2 737.0H1579.2" stroke="#000" stroke-width="8" fill="none"/>
<path d="M1599.0 507.5V566.5M1585.0 509.5H1613.0M1585.0 564.5H1613.0" stroke="#000" stroke-width="8" fill="none"/>
<path d="M1632.8 372.0V445.5M1618.8 374.0H1646.8M1618.8 443.5H1646.8" stroke="#000" stroke-width="8" fill="none"/>
<path d="M1666.5 484.0V559.5M1652.5 486.0H1680.5M1652.5 557.5H1680.5" stroke="#000" stroke-width="8" fill="none"/>
<path d="M1700.3 575.0V655.5M1686.3 577.0H1714.3M1686.3 653.5H1714.3" stroke="#000" stroke-width="8" fill="none"/>
<rect x="237.25" y="38.25" width="1540.50" height="1166.50" fill="none" stroke="#000" stroke-width="11.5"/>
<rect x="242.0" y="225.7" width="24" height="11.6" fill="#000"/>
<rect x="242.0" y="420.9" width="24" height="11.6" fill="#000"/>
<rect x="242.0" y="615.7" width="24" height="11.6" fill="#000"/>
<rect x="242.0" y="809.7" width="24" height="11.6" fill="#000"/>
<rect x="242.0" y="1005.2" width="24" height="11.6" fill="#000"/>
<text id="t_y100" x="89.20" y="262.00" font-size="82" letter-spacing="5.200" stroke="#fff" stroke-width="1">100</text>
<text id="t_y80" x="132.00" y="456.00" font-size="82" letter-spacing="6.500" stroke="#fff" stroke-width="1">80</text>
<text id="t_y60" x="132.00" y="650.00" font-size="82" letter-spacing="6.500" stroke="#fff" stroke-width="1">60</text>
<text id="t_y40" x="131.60" y="841.00" font-size="82" letter-spacing="5.200" stroke="#fff" stroke-width="1">40</text>
<text id="t_y20" x="131.00" y="1035.50" font-size="82" letter-spacing="7.000" stroke="#fff" stroke-width="1">20</text>
<text id="t_y0" x="169.00" y="1230.00" font-size="82" letter-spacing="1.500" stroke="#fff" stroke-width="1">0</text>
<text id="t_x1" x="366.00" y="1285.60" font-size="82" letter-spacing="2.500" stroke="#fff" stroke-width="1">1 d</text>
<text id="t_x5" x="662.80" y="1285.60" font-size="82" letter-spacing="-0.200" stroke="#fff" stroke-width="1">5 d</text>
<text id="t_x7" x="958.40" y="1285.60" font-size="82" letter-spacing="0.900" stroke="#fff" stroke-width="1">7 d</text>
<text id="t_x10" x="1256.40" y="1285.60" font-size="82" letter-spacing="0.300" stroke="#fff" stroke-width="1">10 d</text>
<text id="t_x15" x="1555.00" y="1285.60" font-size="82" letter-spacing="-0.433" stroke="#fff" stroke-width="1">15 d</text>
<text id="t_inc" x="705.60" y="1369.50" font-size="82" letter-spacing="0.307" stroke="#fff" stroke-width="1">Incubation Time</text>
<text id="t_tcp" x="438.20" y="129.80" font-size="82" letter-spacing="0.700" stroke="#fff" stroke-width="1">TCP</text>
<text id="t_pela" x="438.20" y="197.40" font-size="82" letter-spacing="2.633" stroke="#fff" stroke-width="1">PELA</text>
<text id="t_l0" x="436.80" y="267.80" font-size="82" letter-spacing="-0.329" stroke="#fff" stroke-width="1">0 µL/min</text>
<text id="t_l25" x="872.80" y="110.00" font-size="82" letter-spacing="-0.475" stroke="#fff" stroke-width="1">25 µL/min</text>
<text id="t_l50" x="874.00" y="185.40" font-size="82" letter-spacing="-0.550" stroke="#fff" stroke-width="1">50 µL/min</text>
<text id="t_l75" x="873.00" y="261.00" font-size="82" letter-spacing="-0.488" stroke="#fff" stroke-width="1">75 µL/min</text>
<text id="t_l100" x="873.40" y="336.40" font-size="82" letter-spacing="-0.533" stroke="#fff" stroke-width="1">100 µL/min</text>
<text id="t_ast1" x="1301.60" y="381.50" font-size="100" letter-spacing="-0.200" stroke="#fff" stroke-width="1">*</text>
<text id="t_ast2" x="1598.40" y="362.50" font-size="100" letter-spacing="1.200" stroke="#fff" stroke-width="1">*</text>
<text id="t_viab" transform="translate(92.50 881.00) rotate(-90)" font-size="82" letter-spacing="-1.125" stroke="#fff" stroke-width="1">Viability</text>
<text id="t_pct" transform="translate(92.50 552.00) rotate(-90)" font-size="82" letter-spacing="0.000" stroke="#fff" stroke-width="1">(%)</text>
<rect x="341.8" y="75.3" width="60.4" height="40.2" fill="#fff" stroke="#000" stroke-width="7"/>
<rect x="350.4" y="59.5" width="4" height="14" fill="#000"/>
<path d="M342.3 143.0H401.9V147.0H405.9V182.4H401.9V186.4H342.3V182.4H338.3V147.0H342.3Z" fill="#000"/>
<clipPath id="c36"><rect x="345.9" y="150.8" width="52.4" height="27.8"/></clipPath>
<path clip-path="url(#c36)" d="M311.0 186.9L337.7 142.5M327.2 186.9L353.9 142.5M343.4 186.9L370.1 142.5M359.6 186.9L386.3 142.5M375.8 186.9L402.5 142.5M392.0 186.9L418.7 142.5M408.2 186.9L434.9 142.5" stroke="#e4e4e4" stroke-width="5" fill="none"/>
<path d="M342.3 210.6H398.8V214.6H402.8V253.9H398.8V257.9H342.3V253.9H338.3V214.6H342.3Z" fill="#000"/>
<rect x="346.3" y="222.3" width="48.5" height="23.9" fill="#3a3a3a"/>
<rect x="346.3" y="222.3" width="48.5" height="8.7" fill="#f4f4f4"/>
<rect x="346.3" y="237.5" width="48.5" height="8.7" fill="#f4f4f4"/>
<rect x="346.3" y="232.2" width="48.5" height="4" fill="#000"/>
<path d="M795.0 55.1H854.2V59.1H858.2V98.6H854.2V102.6H795.0V98.6H791.0V59.1H795.0Z" fill="#000"/>
<clipPath id="c38"><rect x="799.0" y="63.1" width="51.2" height="31.5"/></clipPath>
<path clip-path="url(#c38)" d="M765.9 53.7L796.2 104.1M782.1 53.7L812.4 104.1M798.3 53.7L828.6 104.1M814.5 53.7L844.8 104.1M830.7 53.7L861.0 104.1M846.9 53.7L877.2 104.1M863.1 53.7L893.4 104.1" stroke="#dcdcdc" stroke-width="5" fill="none"/>
<rect x="787.0" y="135.2" width="67.5" height="46.9" fill="#000"/>
<clipPath id="c39"><rect x="794.8" y="142.8" width="51.9" height="31.7"/></clipPath>
<path clip-path="url(#c39)" d="M759.2 184.0L789.6 133.3M775.4 184.0L805.8 133.3M791.6 184.0L822.0 133.3M807.8 184.0L838.2 133.3M824.0 184.0L854.4 133.3M840.2 184.0L870.6 133.3M856.4 184.0L886.8 133.3" stroke="#7c7c7c" stroke-width="5" fill="none"/>
<rect x="787.0" y="210.1" width="67.5" height="47.7" fill="#000"/>
<rect x="795.0" y="221.9" width="51.5" height="24.1" fill="#3a3a3a"/>
<rect x="795.0" y="221.9" width="51.5" height="8.8" fill="#808080"/>
<rect x="795.0" y="237.2" width="51.5" height="8.8" fill="#808080"/>
<rect x="795.0" y="232.0" width="51.5" height="4" fill="#000"/>
<rect x="787.0" y="285.9" width="67.5" height="47.3" fill="#000"/>
<clipPath id="c41"><rect x="795.0" y="293.7" width="51.5" height="31.7"/></clipPath>
<path clip-path="url(#c41)" d="M761.9 284.2L792.3 334.9M778.1 284.2L808.5 334.9M794.3 284.2L824.7 334.9M810.5 284.2L840.9 334.9M826.7 284.2L857.1 334.9M842.9 284.2L873.3 334.9M859.1 284.2L889.5 334.9" stroke="#6c6c6c" stroke-width="5" fill="none"/>
</g>
</svg></body></html>
